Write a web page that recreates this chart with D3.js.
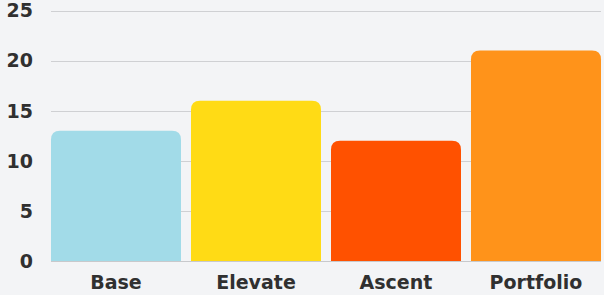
<!DOCTYPE html>
<html>
<head>
<meta charset="utf-8">
<script src="https://cdn.jsdelivr.net/npm/d3@7"></script>
<style>
  html, body { margin: 0; padding: 0; background: #f3f4f6; }
  #chart-container { width: 604px; height: 295px; }
  .tick-label { font-family: "DejaVu Sans", sans-serif; font-weight: bold; font-size: 19px; fill: #303030; }
</style>
</head>
<body>
<div id="chart-container"></div>
<script>
const categories = ["Base", "Elevate", "Ascent", "Portfolio"];
const values = [13, 16, 12, 21];
const colors = ["#a2dbe8", "#ffdb15", "#ff5100", "#ff931a"];
const yTicks = [0, 5, 10, 15, 20, 25];

const width = 604, height = 295;
const margin = { top: 10, right: 3, bottom: 34, left: 51 };

const svg = d3.select("#chart-container")
    .append("svg")
    .attr("width", width)
    .attr("height", height);

const x = d3.scaleBand()
    .domain(categories)
    .range([margin.left, width - margin.right])
    .paddingInner(0.0714)
    .paddingOuter(0);

const y = d3.scaleLinear()
    .domain([0, 25])
    .range([height - margin.bottom, margin.top + 0.5]);

// grid lines
svg.append("g")
    .selectAll("line")
    .data(yTicks)
    .enter().append("line")
    .attr("x1", margin.left)
    .attr("x2", width - margin.right)
    .attr("y1", d => Math.round(y(d)) + 0.5)
    .attr("y2", d => Math.round(y(d)) + 0.5)
    .attr("stroke", "#cfd0d3")
    .attr("stroke-width", 1);

// bars with rounded top corners
const r = 9;
function barPath(d, i) {
    const x0 = x(categories[i]), x1 = x0 + x.bandwidth();
    const y0 = y(0), y1 = y(d);
    return `M${x0},${y0} L${x0},${y1 + r} Q${x0},${y1} ${x0 + r},${y1} L${x1 - r},${y1} Q${x1},${y1} ${x1},${y1 + r} L${x1},${y0} Z`;
}

svg.append("g")
    .selectAll("path")
    .data(values)
    .enter().append("path")
    .attr("d", (d, i) => barPath(d, i))
    .attr("fill", (d, i) => colors[i]);

// baseline
svg.append("line")
    .attr("x1", margin.left)
    .attr("x2", width - margin.right)
    .attr("y1", Math.round(y(0)) + 0.5)
    .attr("y2", Math.round(y(0)) + 0.5)
    .attr("stroke", "#c8c9cc");

// y labels
svg.append("g")
    .selectAll("text")
    .data(yTicks)
    .enter().append("text")
    .attr("class", "tick-label")
    .attr("x", 33)
    .attr("y", d => y(d))
    .attr("dy", "0.36em")
    .attr("text-anchor", "end")
    .text(d => d);

// x labels
svg.append("g")
    .selectAll("text")
    .data(categories)
    .enter().append("text")
    .attr("class", "tick-label")
    .attr("x", d => x(d) + x.bandwidth() / 2)
    .attr("y", 289)
    .attr("text-anchor", "middle")
    .text(d => d);
</script>
</body>
</html>
